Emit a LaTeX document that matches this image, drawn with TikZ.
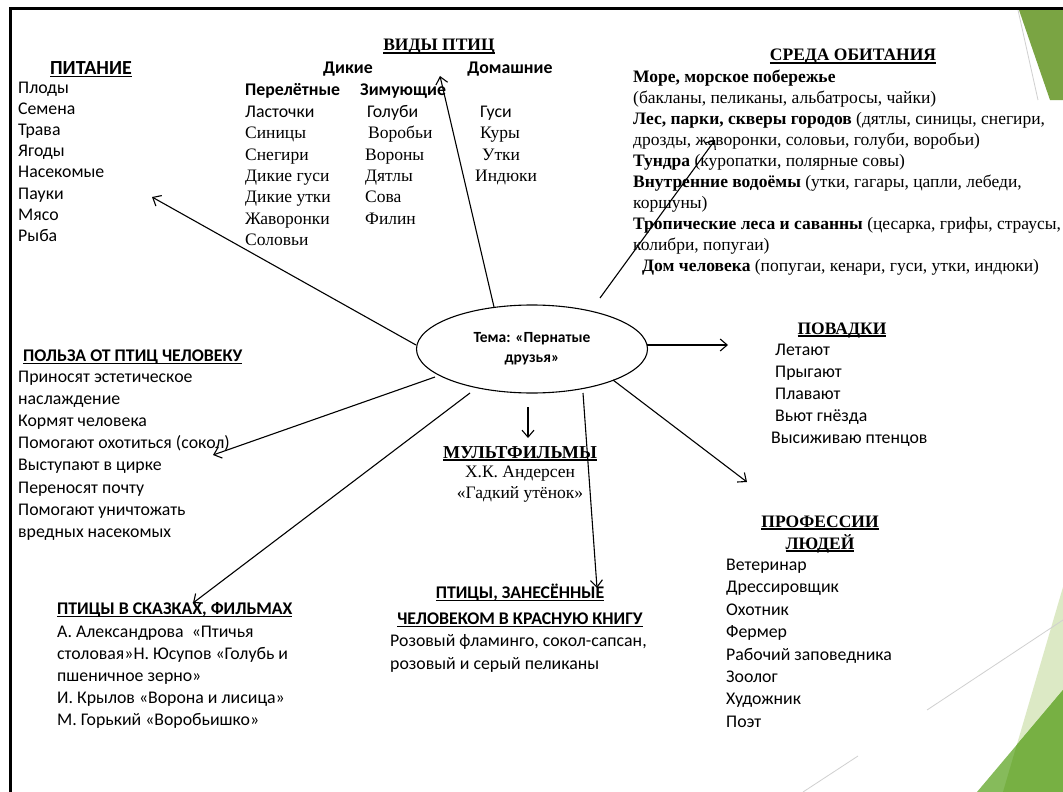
\documentclass[tikz,border=0pt]{standalone}
\usepackage{fontspec}
\setmainfont{Carlito}
\newfontfamily\tm{Liberation Serif}
\newsavebox\ulbox
\newcommand\myul[1]{\sbox\ulbox{#1}\rlap{\rule[-2.8pt]{\wd\ulbox}{1.4pt}}\usebox\ulbox}
\usetikzlibrary{arrows.meta,shapes.geometric}
\definecolor{gtop}{HTML}{7AA443}
\definecolor{gdark}{HTML}{77B043}
\definecolor{gmid}{HTML}{86BB5B}
\definecolor{glight}{HTML}{DCE9C5}
\definecolor{gline}{HTML}{D0D0D0}
\begin{document}
\begin{tikzpicture}[x=1pt,y=-1pt,
  txt/.style={anchor=base west, inner sep=0pt, font=\fontsize{17.8}{20}\selectfont},
  btxt/.style={anchor=base west, inner sep=0pt, font=\fontsize{17.8}{20}\selectfont\bfseries},
  ser/.style={anchor=base west, inner sep=0pt, font=\fontsize{17.5}{20}\selectfont\tm},
  hsans/.style={anchor=base, inner sep=0pt, font=\fontsize{17.8}{20}\selectfont\bfseries},
  hser/.style={anchor=base, inner sep=0pt, font=\fontsize{17.5}{20}\selectfont\tm\bfseries},
  arr/.style={-{Straight Barb[length=7pt,width=12pt]}, line width=1.1pt}]
\useasboundingbox (0,0) rectangle (1063,792);
\fill[white] (0,0) rectangle (1063,792);
% decorations
\fill[gtop] (1019,10) -- (1063,10) -- (1063,100) -- (1050,100) -- cycle;
\draw[gline, line width=0.8pt] (1018,10) -- (1038,100);
\fill[glight] (1063,587) -- (1063,792) -- (1003,792) -- cycle;
\fill[gmid] (1063,690) -- (1063,792) -- (977,792) -- cycle;
\fill[gdark] (1016.8,744.8) -- (1063,690) -- (1063,792) -- (1003,792) -- cycle;
\draw[gline, line width=0.8pt] (927,710) -- (1063,620);
\draw[gline, line width=0.8pt] (803,792) -- (858,756);
% frame
\draw[line width=3pt] (10,792) -- (10,9) -- (1063,9);

% centre
\node[draw, ellipse, line width=1.1pt, minimum width=231pt, minimum height=88pt, inner sep=0pt,
  align=center, font=\fontsize{15.5}{20}\selectfont\bfseries] (c) at (532,349) {Тема: «Пернатые\\друзья»};

% ПИТАНИЕ
\node[hsans, font=\fontsize{20}{20}\selectfont\bfseries] (pith) at (91,74.5) {\myul{ПИТАНИЕ}};
\foreach \s [count=\i from 0] in {Плоды,Семена,Трава,Ягоды,Насекомые,Пауки,Мясо,Рыба}
  \node[txt] (pit\i) at (18,{93.5+21.1*\i}) {\s};

% ВИДЫ ПТИЦ
\node[hser] (vidh) at (439,51) {\myul{ВИДЫ ПТИЦ}};
\node[hsans] (dik) at (348,73.5) {Дикие};
\node[hsans] (dom) at (510,73.5) {Домашние};
\node[btxt] (per) at (245,95.5) {Перелётные};
\node[btxt] (zim) at (360,95.5) {Зимующие};
\node[txt] (v10) at (245,117.5) {Ласточки};
\foreach \s [count=\i from 1] in {Синицы,Снегири,Дикие гуси,Дикие утки,Жаворонки,Соловьи}
  \node[ser] (v1\i) at (245,{117.5+21.3*\i}) {\s};
\node[txt] (v20) at (367,117.5) {Голуби};
\node[ser] (v21) at (368,138.8) {Воробьи};
\foreach \s [count=\i from 2] in {Вороны,Дятлы,Сова,Филин}
  \node[ser] (v2\i) at (365,{117.5+21.3*\i}) {\s};
\node[txt] (v30) at (480,117.5) {Гуси};
\node[ser] (v31) at (480,138.8) {Куры};
\node[ser] (v32) at (482,160.1) {Утки};
\node[ser] (v33) at (475,181.4) {Индюки};

% СРЕДА ОБИТАНИЯ
\node[hser] (sredh) at (853,61) {\myul{СРЕДА ОБИТАНИЯ}};
\foreach \s [count=\i from 0] in {
  {\textbf{Море, морское побережье}},
  {(бакланы, пеликаны, альбатросы, чайки)},
  {\textbf{Лес, парки, скверы городов} (дятлы, синицы, снегири,},
  {дрозды, жаворонки, соловьи, голуби, воробьи)},
  {\textbf{Тундра} (куропатки, полярные совы)},
  {\textbf{Внутренние водоёмы} (утки, гагары, цапли, лебеди,},
  {коршуны)},
  {\textbf{Тропические леса и саванны} (цесарка, грифы, страусы,},
  {колибри, попугаи)}}
  \node[ser] (sr\i) at (633,{82.5+21*\i}) {\s};
\node[ser] (sr9) at (642,271.5) {\textbf{Дом человека} (попугаи, кенари, гуси, утки, индюки)};

% ПОВАДКИ
\node[hser] (povh) at (842,334) {\myul{ПОВАДКИ}};
\foreach \s [count=\i from 0] in {Летают,Прыгают,Плавают,Вьют гнёзда}
  \node[txt] (pov\i) at (775,{355.5+22*\i}) {\s};
\node[txt] (pov4) at (771,443.5) {Высиживаю птенцов};

% ПОЛЬЗА
\node[btxt] (polh) at (23,361.5) {\myul{ПОЛЬЗА ОТ ПТИЦ ЧЕЛОВЕКУ}};
\foreach \s [count=\i from 0] in {Приносят эстетическое,наслаждение,Кормят человека,Помогают охотиться (сокол),Выступают в цирке,Переносят почту,Помогают уничтожать,вредных насекомых}
  \node[txt] (pol\i) at (18,{382.5+22.1*\i}) {\s};

% МУЛЬТФИЛЬМЫ
\node[hser, font=\fontsize{18.2}{20}\selectfont\tm\bfseries] (mulh) at (520,458) {\myul{МУЛЬТФИЛЬМЫ}};
\node[ser, anchor=base] (mul1) at (520,477.5) {Х.К. Андерсен};
\node[ser, anchor=base] (mul2) at (520,498.5) {«Гадкий утёнок»};

% СКАЗКИ
\node[btxt] (skh) at (57,614.5) {\myul{ПТИЦЫ В СКАЗКАХ, ФИЛЬМАХ}};
\foreach \s [count=\i from 0] in {А. Александрова \ «Птичья,столовая»Н. Юсупов «Голубь и,пшеничное зерно»,И. Крылов «Ворона и лисица»,М. Горький «Воробьишко»}
  \node[txt] (sk\i) at (57,{637.5+22*\i}) {\s};

% КРАСНАЯ КНИГА
\node[hsans] (krh1) at (520,598.5) {\myul{ПТИЦЫ, ЗАНЕСЁННЫЕ}};
\node[hsans] (krh2) at (520,624.5) {\myul{ЧЕЛОВЕКОМ В КРАСНУЮ КНИГУ}};
\node[txt] (kr1) at (390,646.5) {Розовый фламинго, сокол-сапсан,};
\node[txt] (kr2) at (390,669.5) {розовый и серый пеликаны};

% ПРОФЕССИИ
\node[hser] (prh1) at (820,527) {\myul{ПРОФЕССИИ}};
\node[hser] (prh2) at (820,549) {\myul{ЛЮДЕЙ}};
\foreach \s [count=\i from 0] in {Ветеринар,Дрессировщик,Охотник,Фермер,Рабочий заповедника,Зоолог,Художник,Поэт}
  \node[txt] (pr\i) at (726,{570.5+22.4*\i}) {\s};

% connectors
\coordinate (s1) at (416,345);  \coordinate (t1) at (152,197);
\coordinate (s2) at (494,307);  \coordinate (t2) at (440,76);
\coordinate (s3) at (600,298);  \coordinate (t3) at (715,140);
\coordinate (s4) at (647,345);  \coordinate (t4) at (728,345);
\coordinate (s5) at (613,380);  \coordinate (t5) at (747,482);
\coordinate (s6) at (583,393);  \coordinate (t6) at (597,588);
\coordinate (s7) at (528,407);  \coordinate (t7) at (528,438);
\coordinate (s8) at (435,377);  \coordinate (t8) at (213,455);
\coordinate (s9) at (470,393);  \coordinate (t9) at (193,603);
\foreach \k in {1,...,9} \draw[arr] (s\k) -- (t\k);
\end{tikzpicture}
\end{document}
